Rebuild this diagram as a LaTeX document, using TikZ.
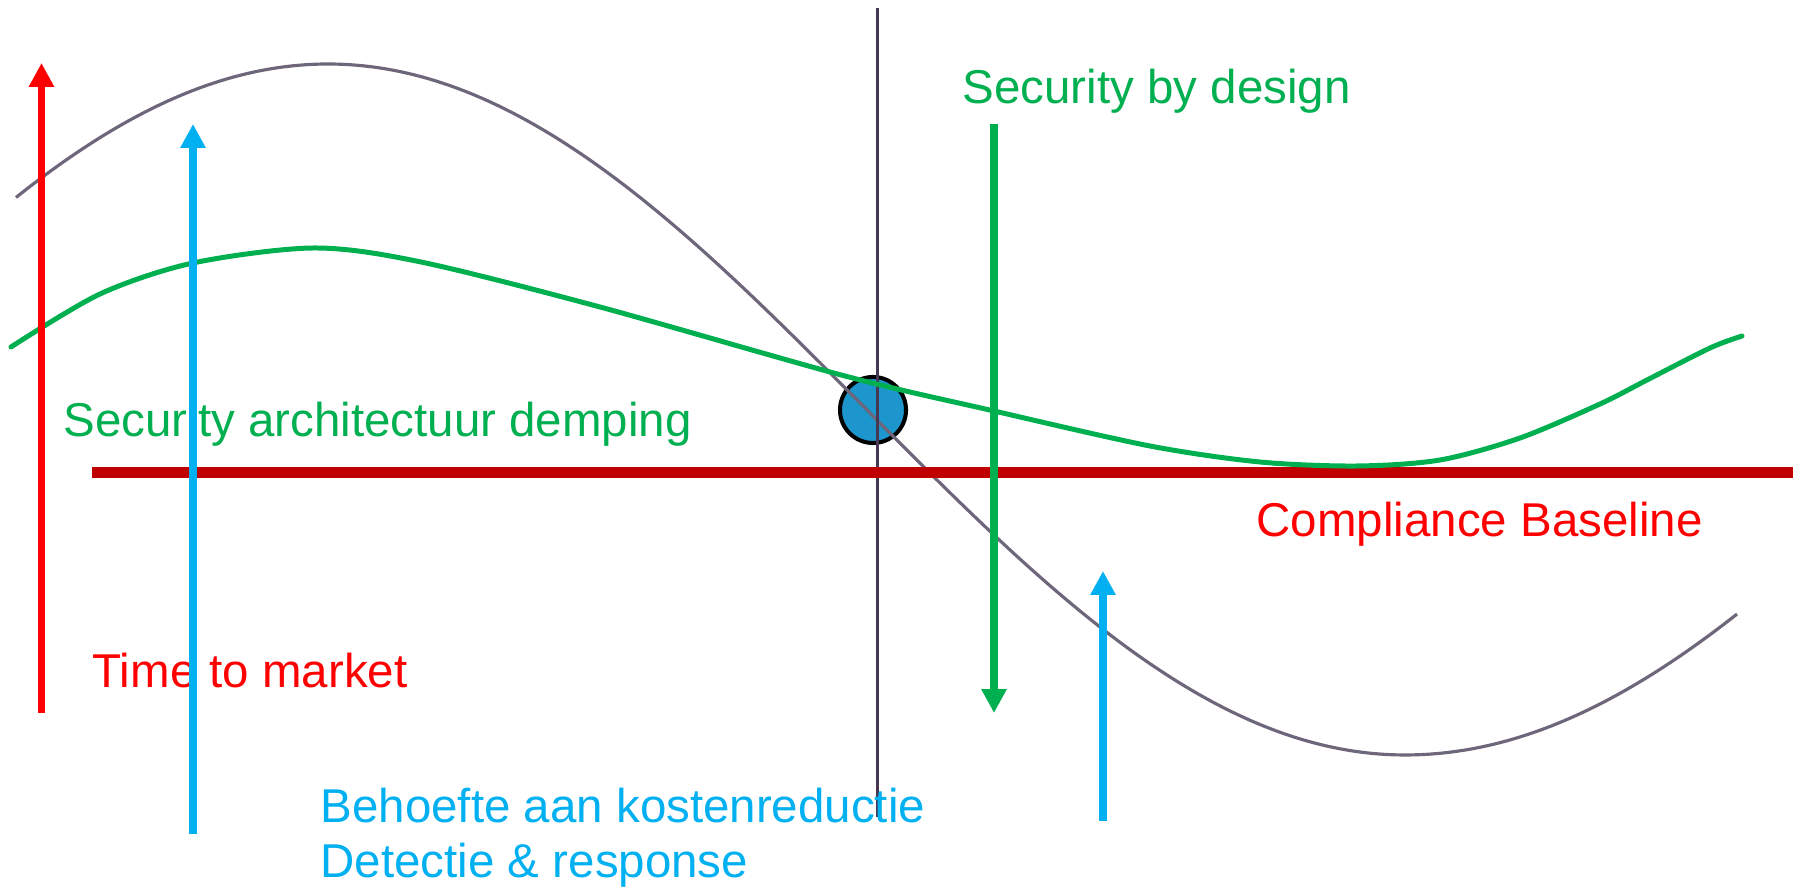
\documentclass[tikz,border=0pt]{standalone}
\usepackage{fontspec}
\setmainfont{Liberation Sans}
\usetikzlibrary{arrows.meta}
\definecolor{msgreen}{HTML}{00B050}
\definecolor{msblue}{HTML}{00B0F0}
\definecolor{msred}{HTML}{FF0000}
\definecolor{msdarkred}{HTML}{C00000}
\definecolor{curvegray}{RGB}{110,102,122}
\definecolor{axisgray}{RGB}{70,55,82}
\definecolor{dotblue}{RGB}{28,150,204}
\tikzset{
  lbl/.style={anchor=base west, inner sep=0pt, font=\fontsize{13.5pt}{15.65pt}\selectfont},
  vecarrow/.style={line width=2.2pt, -{Triangle[width=6.8pt,length=6.8pt]}},
}
\begin{document}
\begin{tikzpicture}[x=0.01cm,y=-0.01cm]
\useasboundingbox (0,0) rectangle (1800,889);
% blue dot
\node (dot) [circle, draw=black, line width=1.15pt, fill=dotblue, minimum size=66*0.2845pt, inner sep=0pt] at (873,410) {};
% gray sine
\draw[curvegray, line width=0.9pt] plot[domain=16:1405, samples=110, smooth] (\x, {409.5 - 345.5*cos((\x-328)/1077*180)})
  -- plot[domain=1405:1737, samples=30, smooth] (\x, {409.5 + 345.5*cos((\x-1405)/1113*180)});
% vertical axis
\coordinate (vtop) at (877,8);
\coordinate (vbot) at (877,817);
\draw[axisgray, line width=0.85pt] (vtop) -- (vbot);
% compliance baseline
\coordinate (bl) at (92,472.5);
\coordinate (br) at (1793,472.5);
\draw[msdarkred, line width=3.13pt] (bl) -- (br);
% damped green curve
\draw[msgreen, line width=1.42pt, line cap=round] plot[smooth, tension=0.5] coordinates {
 (11,347) (100,294) (193,263) (314,248) (421,262) (600,307) (845,376) (994,411)
 (1150,446) (1260,462) (1357,466) (1440,460) (1520,438) (1600,404) (1647,380) (1710,348) (1742,336)};
% labels
\node (sbd) [lbl, text=msgreen] at (962,104) {Security by design};
\node (sad) [lbl, text=msgreen] at (63,437) {Security architectuur demping};
\node (ttm) [lbl, text=msred] at (92,688) {Time to market};
\node (cb) [lbl, text=msred] at (1256,537) {Compliance Baseline};
\node (bk1) [lbl, text=msblue] at (320,823) {Behoefte aan kostenreductie};
\node (bk2) [lbl, text=msblue] at (320,878) {Detectie \& response};
% arrows
\coordinate (r0) at (41.5,713); \coordinate (r1) at (41.5,63);
\coordinate (b0) at (193,834);  \coordinate (b1) at (193,124);
\coordinate (g0) at (994,124);  \coordinate (g1) at (994,713);
\coordinate (c0) at (1103,821); \coordinate (c1) at (1103,571);
\draw[vecarrow, msred] (r0) -- (r1);
\draw[vecarrow, msblue] (b0) -- (b1);
\draw[vecarrow, msgreen] (g0) -- (g1);
\draw[vecarrow, msblue] (c0) -- (c1);
\end{tikzpicture}
\end{document}
